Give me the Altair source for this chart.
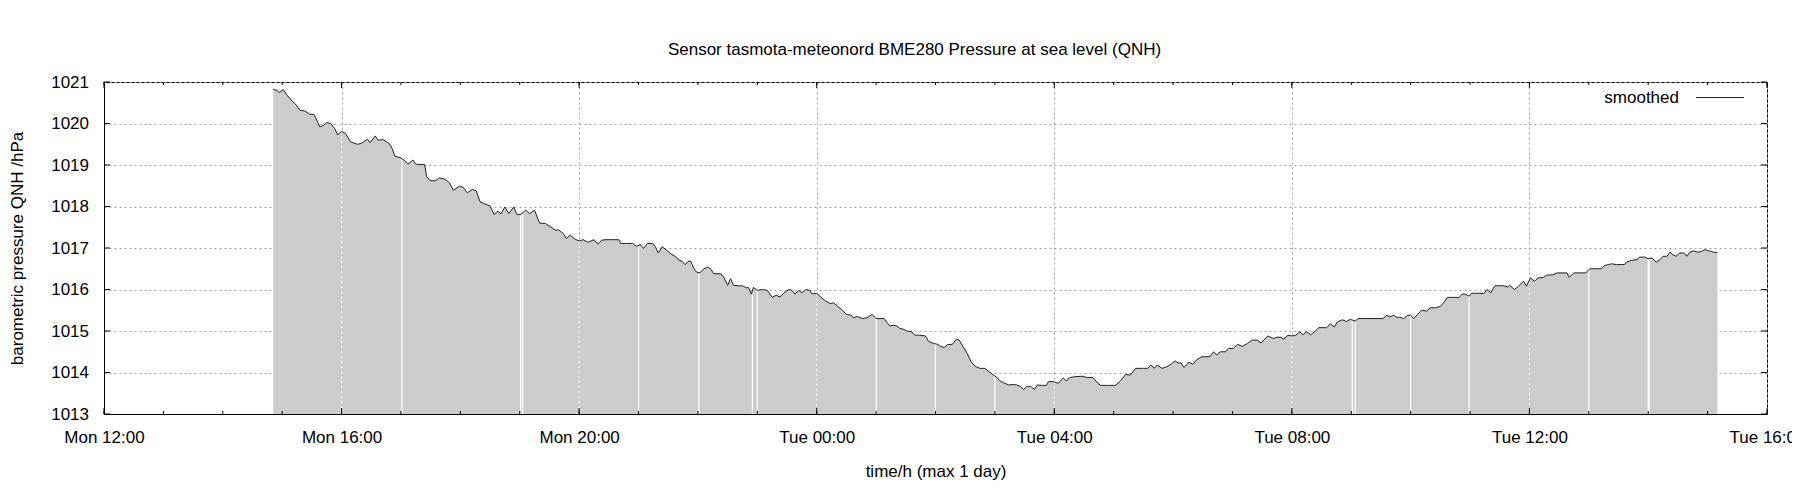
import altair as alt
import pandas as pd

FONT = "Liberation Sans"

# ---- data (Monday part / Tuesday part) ----
mon_times = ["14:51","14:55","14:57","15:01","15:05","15:10","15:13","15:18","15:23","15:28",
             "15:32","15:35","15:38","15:42","15:45","15:49","15:53","15:56","16:00","16:04",
             "16:09","16:16","16:20","16:26","16:29","16:34","16:37","16:42","16:48","16:51",
             "16:54","16:59","17:03","17:07","17:12","17:15","17:19","17:24","17:26","17:30",
             "17:35","17:39","17:45","17:49","17:53","17:59","18:03","18:07","18:12","18:16",
             "18:20","18:25","18:30","18:34","18:38","18:41","18:45","18:49","18:54","18:57",
             "19:01","19:06","19:10","19:15","19:20","19:26","19:31","19:36","19:39","19:44",
             "19:47","19:51","19:56","20:00","20:04","20:09","20:15","20:19","20:23","20:27",
             "20:35","20:40","20:42","20:48","20:54","20:58","21:02","21:05","21:09","21:14",
             "21:17","21:20","21:24","21:28","21:32","21:37","21:40","21:44","21:47","21:51",
             "21:53","21:56","21:59","22:02","22:06","22:10","22:13","22:16","22:23","22:26",
             "22:30","22:33","22:36","22:41","22:45","22:49","22:51","22:54","22:56","23:00",
             "23:05","23:10","23:15","23:19","23:23","23:27","23:32","23:35","23:38","23:42",
             "23:45","23:49","23:53","23:55"]
mon_vals = [1020.82,1020.80,1020.74,1020.82,1020.68,1020.54,1020.48,1020.32,1020.30,1020.22,
            1020.22,1020.08,1019.92,1019.96,1020.02,1020.00,1019.88,1019.73,1019.81,1019.76,
            1019.56,1019.50,1019.52,1019.62,1019.54,1019.70,1019.60,1019.61,1019.52,1019.40,
            1019.21,1019.18,1019.12,1019.02,1019.12,1019.02,1019.01,1019.01,1018.71,1018.62,
            1018.62,1018.69,1018.65,1018.57,1018.39,1018.49,1018.46,1018.33,1018.41,1018.38,
            1018.11,1018.06,1018.01,1017.81,1017.89,1017.82,1017.99,1017.83,1017.99,1017.81,
            1017.81,1017.91,1017.83,1017.91,1017.60,1017.59,1017.51,1017.43,1017.44,1017.35,
            1017.23,1017.31,1017.21,1017.17,1017.20,1017.14,1017.20,1017.09,1017.19,1017.20,
            1017.20,1017.20,1017.11,1017.11,1017.11,1017.04,1017.08,1016.99,1017.11,1017.11,
            1017.03,1016.88,1017.03,1016.95,1016.87,1016.80,1016.72,1016.68,1016.60,1016.69,
            1016.67,1016.50,1016.41,1016.40,1016.50,1016.54,1016.49,1016.38,1016.38,1016.30,
            1016.10,1016.26,1016.10,1016.09,1016.09,1016.04,1016.05,1015.89,1016.05,1015.98,
            1016.00,1015.98,1015.81,1015.86,1015.82,1015.92,1016.00,1015.98,1015.89,1015.98,
            1015.92,1016.00,1015.98,1015.90]

tue_times = ["00:00","00:04","00:09","00:14","00:17","00:22","00:26","00:30","00:35","00:37",
             "00:41","00:46","00:51","00:56","01:00","01:04","01:08","01:11","01:14","01:18",
             "01:21","01:24","01:28","01:31","01:36","01:39","01:43","01:50","01:53","01:58",
             "02:02","02:05","02:09","02:12","02:17","02:21","02:24","02:28","02:32","02:36",
             "02:40","02:45","02:50","02:54","02:58","03:02","03:05","03:09","03:14","03:18",
             "03:22","03:26","03:29","03:32","03:36","03:40","03:43","03:47","03:52","03:54",
             "03:59","04:04","04:09","04:12","04:16","04:21","04:28","04:33","04:39","04:44",
             "04:47","04:55","05:02","05:07","05:12","05:17","05:22","05:30","05:34","05:38",
             "05:41","05:44","05:49","05:54","05:58","06:02","06:05","06:08","06:11","06:16",
             "06:20","06:24","06:29","06:37","06:41","06:44","06:48","06:53","06:56","07:01",
             "07:05","07:10","07:15","07:20","07:25","07:29","07:32","07:36","07:41","07:45",
             "07:49","07:52","07:56","08:00","08:04","08:08","08:11","08:15","08:19","08:23",
             "08:27","08:35","08:39","08:43","08:46","08:51","08:55","08:59","09:04","09:07",
             "09:16","09:24","09:32","09:36","09:39","09:43","09:46","09:49","09:53","09:57",
             "10:00","10:03","10:07","10:11","10:16","10:20","10:25","10:30","10:34","10:37",
             "10:43","10:49","10:52","10:55","10:59","11:02","11:10","11:14","11:17","11:21",
             "11:25","11:30","11:34","11:38","11:40","11:45","11:49","11:54","11:57","12:01",
             "12:05","12:09","12:14","12:18","12:23","12:28","12:34","12:38","12:40","12:45",
             "12:51","12:57","13:01","13:06","13:13","13:16","13:20","13:23","13:28","13:36",
             "13:38","13:43","13:49","13:51","13:57","14:00","14:04","14:08","14:11","14:15",
             "14:19","14:22","14:25","14:28","14:32","14:36","14:39","14:42","14:46","14:50",
             "14:54","14:57","15:02","15:06","15:10"]
tue_vals = [1015.90,1015.82,1015.72,1015.66,1015.68,1015.58,1015.50,1015.40,1015.38,1015.32,
            1015.35,1015.30,1015.32,1015.40,1015.30,1015.30,1015.30,1015.20,1015.12,1015.14,
            1015.12,1015.06,1015.04,1015.00,1014.98,1014.90,1014.90,1014.88,1014.75,1014.70,
            1014.68,1014.63,1014.60,1014.67,1014.68,1014.80,1014.78,1014.62,1014.46,1014.26,
            1014.15,1014.10,1014.10,1014.02,1013.95,1013.88,1013.80,1013.75,1013.70,1013.71,
            1013.70,1013.66,1013.59,1013.66,1013.67,1013.59,1013.70,1013.69,1013.69,1013.78,
            1013.78,1013.74,1013.87,1013.80,1013.88,1013.90,1013.91,1013.88,1013.88,1013.74,
            1013.69,1013.69,1013.69,1013.80,1013.95,1013.94,1014.10,1014.10,1014.10,1014.18,
            1014.10,1014.18,1014.10,1014.14,1014.20,1014.28,1014.23,1014.23,1014.12,1014.25,
            1014.20,1014.31,1014.38,1014.38,1014.50,1014.42,1014.50,1014.50,1014.58,1014.58,
            1014.68,1014.63,1014.70,1014.78,1014.78,1014.71,1014.79,1014.88,1014.82,1014.85,
            1014.85,1014.80,1014.90,1014.88,1014.90,1014.98,1014.91,1014.98,1014.91,1014.98,
            1015.08,1015.08,1015.17,1015.10,1015.22,1015.27,1015.23,1015.28,1015.24,1015.30,
            1015.30,1015.30,1015.30,1015.38,1015.34,1015.38,1015.33,1015.33,1015.30,1015.38,
            1015.38,1015.30,1015.40,1015.50,1015.48,1015.56,1015.56,1015.59,1015.70,1015.81,
            1015.81,1015.81,1015.89,1015.89,1015.84,1015.91,1015.91,1015.90,1016.00,1015.92,
            1016.09,1016.09,1016.09,1016.06,1016.10,1016.00,1016.08,1016.20,1016.08,1016.28,
            1016.20,1016.28,1016.29,1016.35,1016.35,1016.40,1016.40,1016.40,1016.29,1016.40,
            1016.40,1016.40,1016.50,1016.50,1016.50,1016.58,1016.60,1016.62,1016.60,1016.60,
            1016.66,1016.70,1016.72,1016.78,1016.78,1016.74,1016.76,1016.66,1016.70,1016.80,
            1016.80,1016.90,1016.84,1016.80,1016.88,1016.88,1016.80,1016.90,1016.93,1016.90,
            1016.92,1016.96,1016.93,1016.90,1016.89]

# moments with missing samples (white gaps in the filled area)
gap_mon = ["17:01","19:01","19:03","21:00","22:01","22:55","23:00"]
gap_tue = ["01:00","02:00","03:00","09:01","09:04","10:00","10:59","13:00","14:00","14:01"]

y_ticks = [1013, 1014, 1015, 1016, 1017, 1018, 1019, 1020, 1021]

MON = "2024-01-15 "
TUE = "2024-01-16 "

df = pd.DataFrame({
    "t": pd.to_datetime([MON + s for s in mon_times] + [TUE + s for s in tue_times]),
    "v": mon_vals + tue_vals,
})

def nearest(times):
    rows = []
    for t in times:
        i = (df["t"] - t).abs().idxmin()
        rows.append({"t": t, "v": df.loc[i, "v"]})
    return pd.DataFrame(rows)

gaps = nearest(pd.to_datetime([MON + s for s in gap_mon] + [TUE + s for s in gap_tue]))
grid_t = pd.to_datetime([MON + "16:00", MON + "20:00", TUE + "00:00",
                         TUE + "04:00", TUE + "08:00", TUE + "12:00"])
grid_over = nearest(grid_t)

hours = pd.date_range("2024-01-15 12:00", "2024-01-16 16:00", freq="h")
ticks_df = pd.DataFrame({"t": hours, "major": [h.hour % 4 == 0 for h in hours]})
yt_df = pd.DataFrame({"v": y_ticks})

W, H = 1663, 332

x_values = [alt.DateTime(year=2024, month=1, date=15 + (12 + 4 * k) // 24,
                         hours=(12 + 4 * k) % 24, minutes=0) for k in range(8)]

xscale = alt.Scale(domain=[alt.DateTime(year=2024, month=1, date=15, hours=12),
                           alt.DateTime(year=2024, month=1, date=16, hours=16)], nice=False)
yscale = alt.Scale(domain=[1013, 1021], zero=False, nice=False)

X = alt.X("t:T", scale=xscale, title="time/h (max 1 day)",
          axis=alt.Axis(values=x_values, format="%a %H:%M", grid=True,
                        labelFlush=False, labelOverlap=False, labelBound=False,
                        labelBaseline="alphabetic", labelPadding=28,
                        titleY=62, titleBaseline="alphabetic"))
Y = alt.Y("v:Q", scale=yscale, title="barometric pressure QNH /hPa",
          axis=alt.Axis(values=y_ticks, format="d", grid=True, labelPadding=15.5,
                        titleX=-86.7, titleY=H / 2, titleBaseline="middle"))

area = alt.Chart(df).mark_area(color="#cccccc", opacity=1).encode(
    x=X, y=Y, y2=alt.datum(1013))

gap_rules = alt.Chart(gaps).mark_rule(color="white", strokeWidth=1.2).encode(
    x="t:T", y="v:Q", y2=alt.datum(1013))

grid_rules = alt.Chart(grid_over).mark_rule(color="white", strokeWidth=1,
                                             strokeDash=[2, 3]).encode(
    x="t:T", y="v:Q", y2=alt.datum(1013))

line = alt.Chart(df).mark_line(color="#222222", strokeWidth=1).encode(x="t:T", y="v:Q")

tick_bot_minor = alt.Chart(ticks_df).mark_rule(color="black").encode(
    x="t:T", y=alt.value(H), y2=alt.value(H - 3))
tick_top_minor = alt.Chart(ticks_df).mark_rule(color="black").encode(
    x="t:T", y=alt.value(0), y2=alt.value(3))
tick_bot_major = alt.Chart(ticks_df).transform_filter("datum.major").mark_rule(color="black").encode(
    x="t:T", y=alt.value(H), y2=alt.value(H - 6))
tick_top_major = alt.Chart(ticks_df).transform_filter("datum.major").mark_rule(color="black").encode(
    x="t:T", y=alt.value(0), y2=alt.value(6))
ytick_left = alt.Chart(yt_df).mark_rule(color="black").encode(
    y="v:Q", x=alt.value(0), x2=alt.value(6))
ytick_right = alt.Chart(yt_df).mark_rule(color="black").encode(
    y="v:Q", x=alt.value(W - 6), x2=alt.value(W))

legend_text = alt.Chart(pd.DataFrame({"label": ["smoothed"]})).mark_text(
    align="right", baseline="middle", font=FONT, fontSize=17, color="black").encode(
    text="label:N", x=alt.value(1575), y=alt.value(15.5))
legend_line = alt.Chart(pd.DataFrame({"label": ["smoothed"]})).mark_rule(
    color="#222222", strokeWidth=1).encode(
    x=alt.value(1592), x2=alt.value(1640), y=alt.value(15.5))

chart = alt.layer(
    area, gap_rules, grid_rules, line,
    tick_bot_minor, tick_top_minor, tick_bot_major, tick_top_major,
    ytick_left, ytick_right, legend_text, legend_line,
).properties(
    width=W, height=H,
    autosize=alt.AutoSizeParams(type="none"),
    padding={"left": 96, "top": 74, "right": 25, "bottom": 70},
    title=alt.TitleParams(
        text="Sensor tasmota-meteonord BME280 Pressure at sea level (QNH)",
        font=FONT, fontSize=17, fontWeight="normal", color="black",
        anchor="middle", frame="group", offset=1, baseline="alphabetic", dx=-21),
).configure_view(
    stroke="black", strokeWidth=1
).configure_axis(
    labelFont=FONT, titleFont=FONT, labelFontSize=17, titleFontSize=17,
    titleFontWeight="normal", labelColor="black", titleColor="black",
    domainColor="black", domainWidth=1, gridColor="#a0a0a0", gridDash=[2, 3],
    gridWidth=1, ticks=False, tickSize=0,
)

chart.save("out.html", embed_options={"renderer": "svg", "actions": False})
